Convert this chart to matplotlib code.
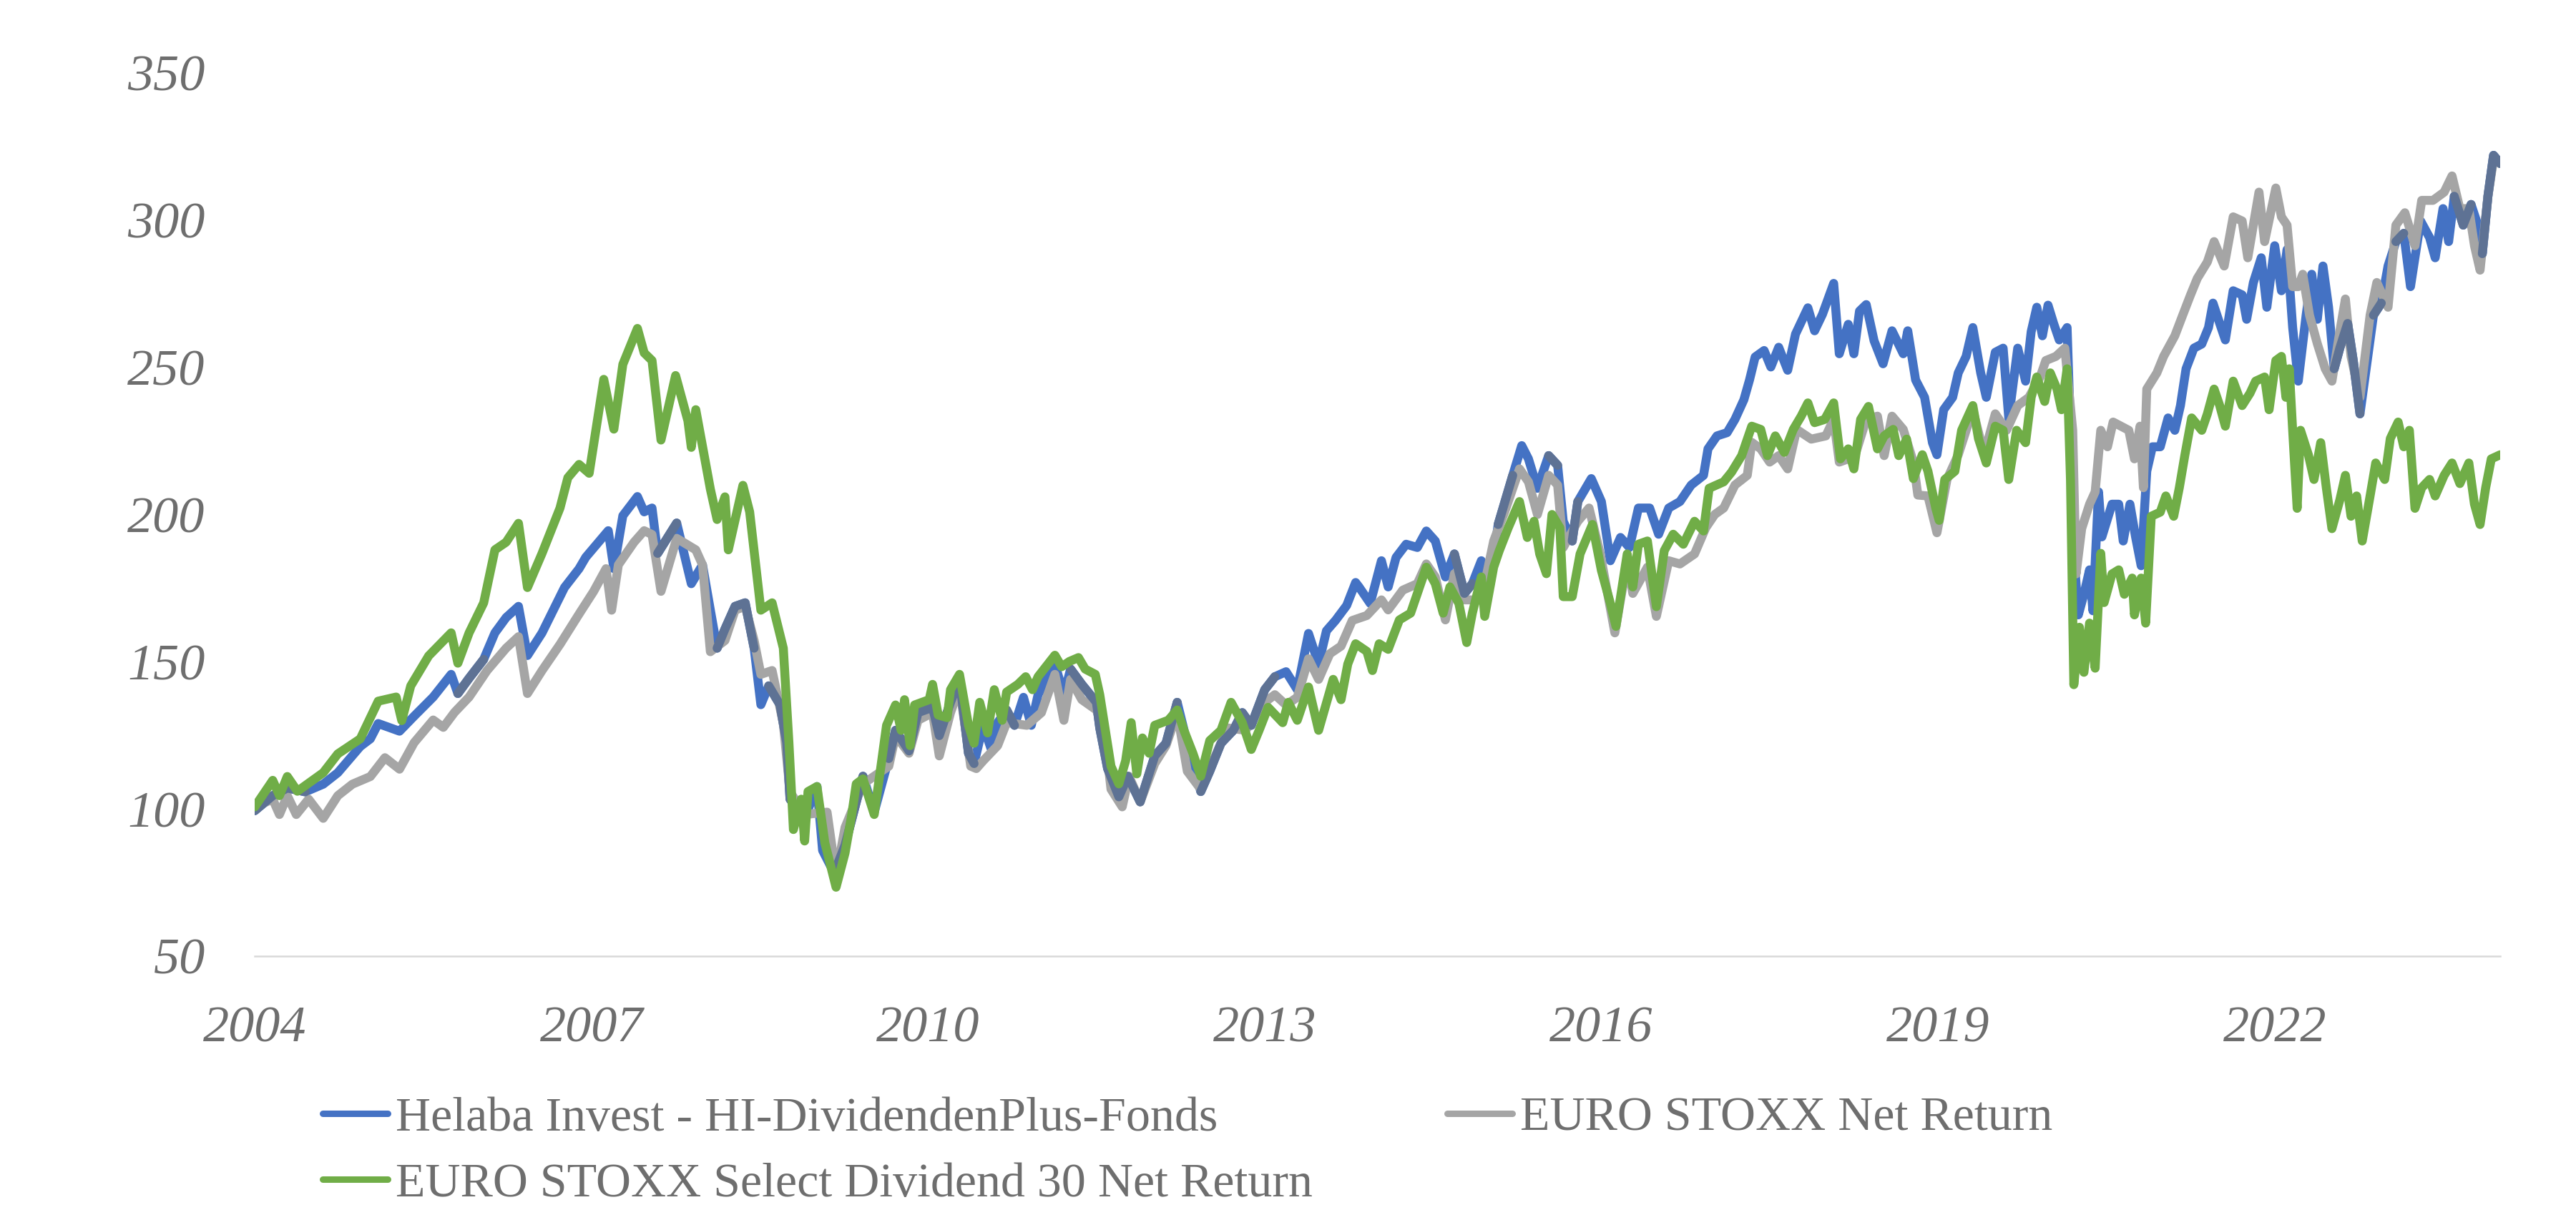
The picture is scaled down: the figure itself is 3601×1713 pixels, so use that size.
import matplotlib
matplotlib.use("Agg")
import matplotlib.pyplot as plt
import numpy as np

# Helaba Invest - HI-DividendenPlus-Fonds (indexiert, Start = 100)
helaba_t = [2004.00, 2004.16, 2004.29, 2004.45, 2004.61, 2004.74, 2004.94, 2005.03, 2005.10, 2005.29,
            2005.42, 2005.59, 2005.75, 2005.81, 2005.91, 2006.04, 2006.14, 2006.24, 2006.35, 2006.43,
            2006.56, 2006.76, 2006.89, 2006.95, 2007.15, 2007.20, 2007.28, 2007.41, 2007.47, 2007.54,
            2007.59, 2007.76, 2007.89, 2007.99, 2008.06, 2008.12, 2008.19, 2008.28, 2008.37, 2008.45,
            2008.51, 2008.58, 2008.68, 2008.74, 2008.77, 2008.90, 2009.01, 2009.06, 2009.13, 2009.18,
            2009.26, 2009.42, 2009.52, 2009.65, 2009.71, 2009.83, 2009.91, 2010.04, 2010.10, 2010.20,
            2010.28, 2010.36, 2010.41, 2010.49, 2010.56, 2010.62, 2010.70, 2010.77, 2010.85, 2010.92,
            2010.98, 2011.13, 2011.21, 2011.27, 2011.37, 2011.50, 2011.53, 2011.60, 2011.70, 2011.78,
            2011.89, 2012.02, 2012.12, 2012.22, 2012.31, 2012.43, 2012.51, 2012.61, 2012.72, 2012.80,
            2012.88, 2013.00, 2013.09, 2013.19, 2013.29, 2013.39, 2013.48, 2013.55, 2013.63, 2013.73,
            2013.81, 2013.84, 2013.94, 2014.04, 2014.10, 2014.17, 2014.26, 2014.36, 2014.44, 2014.52,
            2014.61, 2014.69, 2014.78, 2014.85, 2014.93, 2015.01, 2015.08, 2015.21, 2015.29, 2015.35,
            2015.43, 2015.53, 2015.61, 2015.66, 2015.74, 2015.79, 2015.91, 2016.00, 2016.08, 2016.17,
            2016.25, 2016.33, 2016.43, 2016.51, 2016.60, 2016.70, 2016.80, 2016.91, 2016.95, 2017.03,
            2017.12, 2017.19, 2017.27, 2017.32, 2017.37, 2017.45, 2017.51, 2017.58, 2017.66, 2017.73,
            2017.84, 2017.90, 2017.97, 2018.07, 2018.12, 2018.20, 2018.25, 2018.30, 2018.36, 2018.43,
            2018.51, 2018.59, 2018.69, 2018.73, 2018.80, 2018.88, 2018.95, 2018.99, 2019.05, 2019.13,
            2019.18, 2019.25, 2019.31, 2019.38, 2019.43, 2019.51, 2019.58, 2019.63, 2019.71, 2019.78,
            2019.83, 2019.88, 2019.93, 2019.98, 2020.03, 2020.08, 2020.15, 2020.18, 2020.21, 2020.25,
            2020.30, 2020.35, 2020.38, 2020.43, 2020.46, 2020.55, 2020.61, 2020.65, 2020.71, 2020.76,
            2020.81, 2020.86, 2020.91, 2020.98, 2021.05, 2021.11, 2021.16, 2021.21, 2021.28, 2021.35,
            2021.41, 2021.45, 2021.51, 2021.56, 2021.63, 2021.71, 2021.75, 2021.81, 2021.88, 2021.93,
            2022.00, 2022.06, 2022.11, 2022.16, 2022.21, 2022.28, 2022.33, 2022.38, 2022.43, 2022.48,
            2022.53, 2022.58, 2022.65, 2022.70, 2022.76, 2022.81, 2022.88, 2022.95, 2023.01, 2023.08,
            2023.15, 2023.21, 2023.30, 2023.38, 2023.43, 2023.50, 2023.55, 2023.60, 2023.68, 2023.75,
            2023.81, 2023.85, 2023.90, 2023.95, 2024.01]
helaba_v = [99.4, 104.5, 107.1, 105.8, 108.4, 112.3, 121.2, 123.8, 129.0, 126.4,
            131.5, 138.0, 145.7, 139.2, 144.4, 150.8, 159.8, 165.0, 168.8, 152.1,
            159.8, 175.2, 181.6, 185.5, 194.5, 181.6, 199.6, 206.1, 200.9, 202.2,
            186.8, 197.1, 176.5, 182.9, 167.5, 154.6, 161.1, 168.8, 170.0, 154.6,
            135.4, 141.8, 135.4, 122.5, 103.3, 96.8, 107.6, 85.9, 80.7, 79.9,
            87.7, 111.1, 98.9, 117.1, 126.7, 119.7, 132.7, 134.5, 124.9, 136.2,
            144.0, 118.9, 115.4, 128.4, 120.6, 129.3, 133.6, 128.4, 137.9, 128.4,
            138.8, 149.2, 138.8, 147.5, 142.3, 136.2, 127.5, 113.7, 104.1, 111.1,
            102.4, 118.0, 122.3, 136.2, 122.3, 105.9, 112.8, 122.3, 126.7, 132.7,
            128.4, 140.5, 144.9, 146.6, 140.5, 159.6, 149.2, 160.5, 164.0, 169.1,
            176.9, 175.4, 169.8, 184.3, 175.4, 185.4, 189.9, 188.8, 194.4, 191.0,
            178.8, 186.6, 173.2, 176.5, 184.3, 176.5, 196.6, 213.3, 223.4, 218.9,
            208.9, 220.0, 216.7, 197.7, 191.0, 204.4, 212.2, 204.4, 184.3, 192.2,
            188.8, 202.2, 202.2, 193.3, 202.2, 204.4, 210.0, 213.3, 222.3, 226.7,
            227.8, 232.3, 239.0, 245.7, 253.5, 255.7, 250.1, 256.8, 249.0, 261.3,
            270.2, 262.4, 268.0, 278.5, 254.6, 264.6, 254.6, 269.1, 271.3, 259.0,
            251.2, 262.4, 254.6, 262.4, 245.7, 239.8, 224.4, 220.3, 235.6, 239.8,
            248.1, 253.7, 263.5, 248.1, 239.8, 255.1, 256.5, 232.8, 256.5, 245.3,
            262.1, 270.4, 260.7, 271.1, 264.9, 259.3, 263.5, 228.6, 186.8, 165.9,
            172.9, 181.2, 167.3, 207.7, 192.4, 203.5, 203.5, 191.0, 203.5, 192.4,
            182.6, 214.7, 223.0, 223.0, 232.8, 228.6, 237.0, 249.5, 256.5, 257.9,
            263.5, 271.8, 264.9, 259.3, 276.0, 274.6, 266.3, 278.8, 287.2, 270.4,
            291.3, 276.0, 290.0, 263.5, 245.3, 267.7, 281.6, 266.3, 284.4, 270.4,
            249.5, 256.5, 264.9, 252.3, 234.2, 248.1, 267.7, 271.8, 284.4, 292.7,
            295.5, 277.4, 299.7, 294.1, 287.2, 303.9, 292.7, 308.1, 298.3, 305.3,
            298.3, 288.6, 308.1, 322.0, 319.2]

# EURO STOXX Net Return
stoxx_t = [2004.00, 2004.16, 2004.22, 2004.29, 2004.37, 2004.48, 2004.61, 2004.74, 2004.87, 2005.03,
           2005.16, 2005.29, 2005.42, 2005.59, 2005.68, 2005.78, 2005.91, 2006.07, 2006.24, 2006.35,
           2006.43, 2006.56, 2006.72, 2006.89, 2007.02, 2007.13, 2007.18, 2007.24, 2007.38, 2007.47,
           2007.54, 2007.62, 2007.76, 2007.93, 2007.99, 2008.06, 2008.19, 2008.28, 2008.37, 2008.45,
           2008.51, 2008.61, 2008.71, 2008.77, 2008.90, 2009.10, 2009.18, 2009.26, 2009.42, 2009.65,
           2009.71, 2009.83, 2009.91, 2010.04, 2010.10, 2010.20, 2010.28, 2010.38, 2010.43, 2010.49,
           2010.62, 2010.70, 2010.88, 2011.01, 2011.13, 2011.21, 2011.27, 2011.37, 2011.50, 2011.57,
           2011.63, 2011.73, 2011.79, 2011.89, 2012.02, 2012.12, 2012.22, 2012.31, 2012.43, 2012.51,
           2012.67, 2012.83, 2013.00, 2013.09, 2013.19, 2013.29, 2013.39, 2013.48, 2013.58, 2013.68,
           2013.78, 2013.91, 2014.04, 2014.10, 2014.23, 2014.36, 2014.44, 2014.52, 2014.61, 2014.69,
           2014.78, 2014.88, 2014.96, 2015.04, 2015.14, 2015.27, 2015.35, 2015.43, 2015.53, 2015.61,
           2015.66, 2015.79, 2015.89, 2015.99, 2016.12, 2016.23, 2016.28, 2016.41, 2016.49, 2016.60,
           2016.70, 2016.83, 2016.93, 2017.01, 2017.09, 2017.19, 2017.30, 2017.34, 2017.42, 2017.50,
           2017.58, 2017.66, 2017.74, 2017.87, 2018.00, 2018.07, 2018.12, 2018.20, 2018.26, 2018.36,
           2018.46, 2018.52, 2018.59, 2018.69, 2018.78, 2018.82, 2018.91, 2018.99, 2019.08, 2019.18,
           2019.31, 2019.41, 2019.51, 2019.61, 2019.71, 2019.81, 2019.91, 2019.96, 2020.05, 2020.13,
           2020.20, 2020.23, 2020.28, 2020.35, 2020.40, 2020.45, 2020.51, 2020.56, 2020.63, 2020.70,
           2020.75, 2020.80, 2020.83, 2020.86, 2020.95, 2021.01, 2021.11, 2021.18, 2021.25, 2021.31,
           2021.40, 2021.46, 2021.55, 2021.63, 2021.71, 2021.76, 2021.86, 2021.91, 2022.01, 2022.06,
           2022.11, 2022.16, 2022.21, 2022.25, 2022.31, 2022.38, 2022.45, 2022.51, 2022.58, 2022.63,
           2022.68, 2022.76, 2022.85, 2022.91, 2023.01, 2023.08, 2023.16, 2023.25, 2023.31, 2023.41,
           2023.51, 2023.58, 2023.65, 2023.73, 2023.78, 2023.83, 2023.90, 2023.95, 2024.01]
stoxx_v = [100.7, 103.3, 98.1, 104.5, 98.1, 103.3, 96.8, 104.5, 108.4, 111.0,
           117.4, 113.5, 122.5, 130.2, 127.7, 132.8, 138.0, 147.0, 154.6, 158.5,
           139.2, 147.0, 155.9, 166.2, 173.9, 181.6, 167.5, 182.9, 190.6, 194.5,
           193.2, 173.9, 191.9, 188.0, 182.9, 153.4, 157.2, 167.5, 168.8, 157.2,
           145.7, 147.0, 129.0, 105.8, 98.1, 98.9, 77.2, 93.7, 108.5, 114.5,
           124.9, 118.9, 130.1, 132.7, 118.0, 132.7, 141.4, 114.5, 113.7, 116.3,
           121.5, 129.3, 128.4, 132.7, 145.7, 130.1, 144.0, 137.1, 133.6, 126.7,
           106.7, 100.7, 111.1, 102.4, 115.4, 121.5, 132.7, 112.8, 106.7, 113.7,
           127.5, 126.7, 136.2, 138.8, 135.3, 137.9, 151.0, 144.0, 152.7, 155.3,
           164.0, 165.7, 171.0, 167.6, 174.3, 176.5, 183.2, 178.8, 164.2, 179.9,
           171.0, 171.0, 176.5, 191.0, 201.1, 215.5, 211.1, 200.0, 213.3, 210.0,
           188.8, 197.7, 202.2, 186.6, 159.8, 184.3, 173.2, 182.1, 165.4, 184.3,
           183.2, 186.6, 195.5, 200.0, 202.2, 210.0, 213.3, 224.5, 222.3, 217.8,
           220.0, 215.5, 228.9, 225.6, 226.7, 232.3, 217.8, 218.9, 220.0, 232.3,
           233.4, 220.0, 233.4, 228.9, 217.8, 206.6, 206.3, 193.8, 211.9, 220.3,
           235.6, 220.3, 234.2, 228.6, 237.0, 239.8, 246.7, 252.3, 253.7, 256.5,
           228.6, 179.8, 195.2, 203.5, 207.7, 228.6, 223.0, 231.4, 230.0, 228.6,
           218.9, 230.0, 209.1, 242.6, 248.1, 253.7, 260.7, 267.7, 274.6, 280.2,
           285.8, 292.7, 284.4, 301.1, 299.7, 287.2, 309.5, 292.7, 310.9, 301.1,
           298.3, 277.4, 277.4, 281.6, 267.7, 258.0, 249.5, 245.3, 262.1, 273.2,
           253.7, 239.8, 267.7, 278.8, 270.4, 298.3, 302.5, 291.3, 306.7, 306.7,
           309.5, 315.0, 303.9, 303.9, 291.3, 283.0, 308.1, 320.6, 319.2]

# EURO STOXX Select Dividend 30 Net Return
divi_t = [2004.00, 2004.16, 2004.22, 2004.29, 2004.38, 2004.61, 2004.74, 2004.94, 2005.10, 2005.26,
          2005.31, 2005.39, 2005.55, 2005.75, 2005.81, 2005.91, 2006.04, 2006.14, 2006.24, 2006.35,
          2006.43, 2006.56, 2006.72, 2006.79, 2006.89, 2006.98, 2007.11, 2007.20, 2007.28, 2007.41,
          2007.47, 2007.54, 2007.62, 2007.75, 2007.86, 2007.89, 2007.93, 2008.06, 2008.12, 2008.19,
          2008.22, 2008.35, 2008.41, 2008.51, 2008.61, 2008.71, 2008.76, 2008.80, 2008.87, 2008.90,
          2008.93, 2009.01, 2009.08, 2009.18, 2009.26, 2009.32, 2009.36, 2009.42, 2009.52, 2009.58,
          2009.63, 2009.71, 2009.76, 2009.79, 2009.84, 2009.88, 2010.01, 2010.04, 2010.09, 2010.17,
          2010.20, 2010.28, 2010.36, 2010.41, 2010.46, 2010.53, 2010.59, 2010.66, 2010.70, 2010.80,
          2010.87, 2010.93, 2010.98, 2011.05, 2011.13, 2011.19, 2011.26, 2011.34, 2011.40, 2011.49,
          2011.53, 2011.58, 2011.63, 2011.70, 2011.76, 2011.81, 2011.86, 2011.91, 2011.97, 2012.02,
          2012.14, 2012.22, 2012.28, 2012.36, 2012.43, 2012.51, 2012.61, 2012.70, 2012.80, 2012.88,
          2012.95, 2013.03, 2013.16, 2013.21, 2013.29, 2013.39, 2013.48, 2013.61, 2013.68, 2013.74,
          2013.81, 2013.91, 2013.96, 2014.02, 2014.10, 2014.20, 2014.30, 2014.36, 2014.44, 2014.52,
          2014.59, 2014.65, 2014.73, 2014.80, 2014.85, 2014.93, 2014.96, 2015.04, 2015.09, 2015.17,
          2015.27, 2015.34, 2015.40, 2015.45, 2015.51, 2015.56, 2015.63, 2015.66, 2015.74, 2015.81,
          2015.92, 2016.00, 2016.08, 2016.13, 2016.23, 2016.28, 2016.33, 2016.41, 2016.49, 2016.56,
          2016.64, 2016.73, 2016.83, 2016.91, 2016.96, 2017.09, 2017.16, 2017.25, 2017.34, 2017.42,
          2017.48, 2017.55, 2017.63, 2017.71, 2017.78, 2017.84, 2017.90, 2017.99, 2018.07, 2018.13,
          2018.20, 2018.25, 2018.31, 2018.38, 2018.46, 2018.52, 2018.60, 2018.65, 2018.72, 2018.78,
          2018.86, 2018.91, 2018.98, 2019.01, 2019.06, 2019.15, 2019.21, 2019.31, 2019.36, 2019.43,
          2019.51, 2019.58, 2019.63, 2019.70, 2019.78, 2019.83, 2019.88, 2019.95, 2020.00, 2020.06,
          2020.10, 2020.15, 2020.18, 2020.21, 2020.26, 2020.30, 2020.35, 2020.40, 2020.45, 2020.48,
          2020.55, 2020.61, 2020.66, 2020.73, 2020.75, 2020.81, 2020.85, 2020.90, 2020.98, 2021.03,
          2021.10, 2021.15, 2021.20, 2021.26, 2021.35, 2021.40, 2021.46, 2021.51, 2021.56, 2021.63,
          2021.71, 2021.78, 2021.83, 2021.91, 2021.95, 2022.01, 2022.06, 2022.10, 2022.13, 2022.16,
          2022.20, 2022.23, 2022.30, 2022.35, 2022.41, 2022.46, 2022.51, 2022.58, 2022.63, 2022.68,
          2022.73, 2022.78, 2022.85, 2022.90, 2022.98, 2023.03, 2023.10, 2023.15, 2023.20, 2023.25,
          2023.31, 2023.38, 2023.43, 2023.51, 2023.58, 2023.65, 2023.73, 2023.78, 2023.83, 2023.88,
          2023.93, 2024.01]
divi_v = [100.7, 109.7, 104.5, 111.0, 106.0, 112.3, 118.7, 123.8, 136.6, 138.0,
          130.0, 141.8, 152.0, 159.8, 149.5, 159.8, 170.0, 188.0, 190.6, 197.0,
          175.2, 186.8, 202.2, 212.5, 217.0, 214.0, 245.9, 229.0, 251.0, 263.2,
          254.9, 252.3, 225.3, 247.2, 231.8, 222.8, 235.6, 208.6, 198.3, 206.0,
          188.0, 209.9, 200.9, 167.5, 170.0, 154.6, 122.5, 93.0, 103.3, 89.1,
          105.9, 107.6, 88.5, 73.4, 85.0, 98.1, 108.5, 110.2, 98.1, 114.5,
          128.4, 135.3, 126.7, 137.1, 121.5, 135.3, 137.1, 142.3, 131.9, 131.0,
          140.5, 145.7, 128.4, 122.3, 136.2, 125.8, 140.5, 130.1, 139.7, 142.3,
          144.9, 140.5, 144.9, 148.3, 152.2, 148.3, 150.1, 151.4, 147.5, 145.7,
          138.8, 126.7, 114.5, 108.5, 116.3, 129.3, 111.9, 124.1, 118.9, 128.4,
          130.1, 133.6, 126.7, 118.9, 111.1, 123.2, 126.7, 136.2, 129.3, 120.2,
          126.7, 134.5, 129.3, 136.2, 130.1, 141.4, 126.7, 144.0, 137.1, 149.2,
          156.1, 153.5, 147.0, 156.1, 154.2, 164.2, 166.5, 173.2, 182.1, 176.5,
          166.5, 175.4, 169.8, 156.5, 166.5, 178.8, 165.4, 182.1, 187.7, 195.5,
          204.4, 192.2, 197.7, 186.6, 179.9, 200.0, 195.5, 172.1, 172.1, 186.6,
          196.6, 181.0, 169.8, 162.0, 186.6, 175.4, 189.9, 191.0, 168.7, 187.7,
          193.3, 189.9, 197.7, 194.4, 208.9, 211.1, 214.4, 220.0, 230.0, 228.9,
          220.0, 226.7, 221.1, 228.9, 233.4, 237.9, 231.2, 232.3, 237.9, 218.9,
          222.3, 215.5, 232.3, 236.7, 222.3, 226.7, 228.9, 220.0, 225.6, 212.2,
          220.3, 214.7, 202.1, 198.0, 211.9, 214.7, 228.6, 237.0, 225.8, 217.5,
          230.0, 228.6, 211.9, 228.6, 224.4, 239.8, 246.7, 238.4, 248.1, 242.6,
          235.6, 249.5, 211.9, 142.2, 161.7, 146.4, 163.1, 147.8, 186.8, 170.1,
          179.8, 181.2, 172.9, 178.4, 165.9, 178.4, 163.1, 199.4, 200.8, 206.3,
          199.4, 209.1, 220.3, 232.8, 228.6, 234.2, 242.6, 237.0, 230.0, 245.3,
          237.0, 241.2, 245.3, 246.7, 235.6, 252.3, 253.7, 239.8, 249.5, 228.6,
          202.1, 228.6, 220.3, 211.9, 224.4, 209.1, 195.2, 204.9, 213.3, 199.4,
          206.3, 191.0, 206.3, 217.5, 211.9, 225.8, 231.4, 223.0, 228.6, 202.1,
          209.1, 211.9, 206.3, 213.3, 217.5, 210.5, 217.5, 203.5, 196.6, 209.1,
          218.9, 220.3]

year_ticks = [2004, 2007, 2010, 2013, 2016, 2019, 2022]
value_ticks = [50, 100, 150, 200, 250, 300, 350]

labels = ["Helaba Invest - HI-DividendenPlus-Fonds",
          "EURO STOXX Net Return",
          "EURO STOXX Select Dividend 30 Net Return"]
colors = ["#4472C4", "#A5A5A5", "#70AD47"]
overlap_color = "#5E7294"   # wo Fonds- und Indexlinie übereinander liegen
text_color = "#6E6E6E"

fig = plt.figure(figsize=(36.01, 17.13), dpi=100)
ax = fig.add_axes([0.0989, 0.2195, 0.8717, 0.7210])

lw = 9.0
style = dict(lw=lw, solid_joinstyle="round", solid_capstyle="round")
l1, = ax.plot(helaba_t, helaba_v, color=colors[0], label=labels[0], **style)
l2, = ax.plot(stoxx_t, stoxx_v, color=colors[1], label=labels[1], **style)

# dunklere Mischfarbe dort, wo sich blaue und graue Linie decken
hv = np.array(helaba_v)
gap = np.abs(hv - np.interp(helaba_t, stoxx_t, stoxx_v))
ax.plot(helaba_t, np.ma.masked_where(gap > 7.0, hv), color=overlap_color, **style)

l3, = ax.plot(divi_t, divi_v, color=colors[2], label=labels[2], **style)

ax.set_xlim(2004, 2024.01)
ax.set_ylim(50, 350)
ax.set_xticks(year_ticks)
ax.set_xticklabels([str(y) for y in year_ticks])
ax.set_yticks(value_ticks)
ax.set_yticklabels([str(v) for v in value_ticks])

for s in ["top", "right", "left"]:
    ax.spines[s].set_visible(False)
ax.spines["bottom"].set_color("#D9D9D9")
ax.spines["bottom"].set_linewidth(1.8)
ax.tick_params(axis="both", length=0, colors=text_color, labelsize=52)
ax.tick_params(axis="x", pad=50)
ax.tick_params(axis="y", pad=50)
for t in ax.get_xticklabels() + ax.get_yticklabels():
    t.set_family("Liberation Serif")
    t.set_style("italic")

# Reihenfolge so, dass die Legende zeilenweise gefüllt wird
leg = fig.legend([l1, l3, l2], [labels[0], labels[2], labels[1]], ncol=2,
                 loc="upper left", bbox_to_anchor=(0.1252, 0.105), frameon=False,
                 borderpad=0, borderaxespad=0, handlelength=1.34, handletextpad=0.16,
                 columnspacing=2.76, labelspacing=0.45,
                 prop={"family": "Liberation Serif", "size": 49})
for t in leg.get_texts():
    t.set_color(text_color)
for h in leg.get_lines():
    h.set_linewidth(6.5)

fig.savefig("out.png", dpi=100)
